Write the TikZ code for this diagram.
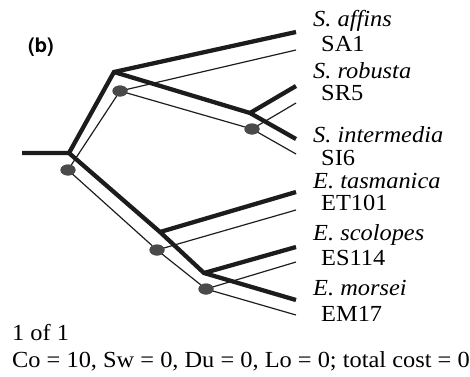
\documentclass[tikz,border=0pt]{standalone}
\usepackage{fontspec}
\setmainfont{Liberation Serif}[FakeStretch=1.06]
\newfontfamily\panelfont{TeX Gyre Heros}
\usetikzlibrary{shapes.geometric}
\definecolor{hostline}{RGB}{28,28,28}
\definecolor{paraline}{RGB}{30,30,30}
\definecolor{eventfill}{RGB}{74,74,74}

\begin{document}
\begin{tikzpicture}[x=1pt, y=-1pt,
  host/.style={draw=hostline, line width=4.3pt},
  para/.style={draw=paraline, line width=1.2pt},
  event/.style={fill=eventfill, ellipse, minimum width=15pt,
                minimum height=11pt, inner sep=0pt},
  taxon/.style={anchor=base west, inner sep=0pt,
                font=\fontsize{23}{26}\selectfont\itshape},
  strain/.style={anchor=base west, inner sep=0pt,
                 font=\fontsize{23}{26}\selectfont},
  note/.style={anchor=base west, inner sep=0pt,
               font=\fontsize{23}{26}\selectfont},
]
\useasboundingbox (0,0) rectangle (470,376);

% ---- Host tree (thick) ----
\coordinate (hstem) at (22,153);
\coordinate (h0)  at (69,153);
\coordinate (h1)  at (114,72);
\coordinate (h2)  at (250,113);
\coordinate (h3)  at (160,232);
\coordinate (h4)  at (204,273);
\coordinate (hSA) at (296,32);
\coordinate (hSR) at (296,86);
\coordinate (hSI) at (296,139);
\coordinate (hET) at (296,192);
\coordinate (hES) at (296,247);
\coordinate (hEM) at (296,300);

\draw[host] (hstem) -- (h0) -- (h1) -- (hSA);
\draw[host] (h1) -- (h2) -- (hSI);
\draw[host] (h2) -- (hSR);
\draw[host] (h0) -- (h3) -- (h4) -- (hEM);
\draw[host] (h3) -- (hET);
\draw[host] (h4) -- (hES);

% ---- Parasite tree (thin) with cospeciation events ----
\node[event] (p0) at (68,170) {};
\node[event] (p1) at (120,91) {};
\node[event] (p2) at (252,129) {};
\node[event] (p3) at (157,250) {};
\node[event] (p4) at (206,289) {};
\coordinate (pSA) at (296,50);
\coordinate (pSR) at (296,103);
\coordinate (pSI) at (296,154);
\coordinate (pET) at (296,210);
\coordinate (pES) at (296,262);
\coordinate (pEM) at (296,315);

\foreach \a/\b in {p0/p1, p1/pSA, p1/p2, p2/pSR, p2/pSI,
                   p0/p3, p3/pET, p3/p4, p4/pES, p4/pEM}
  \draw[para] (\a.center) -- (\b);
\foreach \e in {p0,p1,p2,p3,p4}
  \node[event] at (\e) {};

% ---- Leaf labels ----
\node[taxon]  (tSA) at (313,26)  {S. affins};
\node[strain] (sSA) at (321,51)  {SA1};
\node[taxon]  (tSR) at (313,78)  {S. robusta};
\node[strain] (sSR) at (321,100) {SR5};
\node[taxon]  (tSI) at (313,142) {S. intermedia};
\node[strain] (sSI) at (321,165) {SI6};
\node[taxon]  (tET) at (313,188) {E. tasmanica};
\node[strain] (sET) at (321,210) {ET101};
\node[taxon]  (tES) at (313,240) {E. scolopes};
\node[strain] (sES) at (321,265) {ES114};
\node[taxon]  (tEM) at (313,295) {E. morsei};
\node[strain] (sEM) at (321,321) {EM17};

% ---- Panel tag and cost summary ----
\node[anchor=base west, inner sep=0pt,
      font=\panelfont\bfseries\fontsize{20}{24}\selectfont] (tag) at (28,52) {(b)};
\node[note] (count) at (12,340) {1 of 1};
\node[note] (cost)  at (12,367) {Co = 10, Sw = 0, Du = 0, Lo = 0; total cost = 0};
\end{tikzpicture}
\end{document}
